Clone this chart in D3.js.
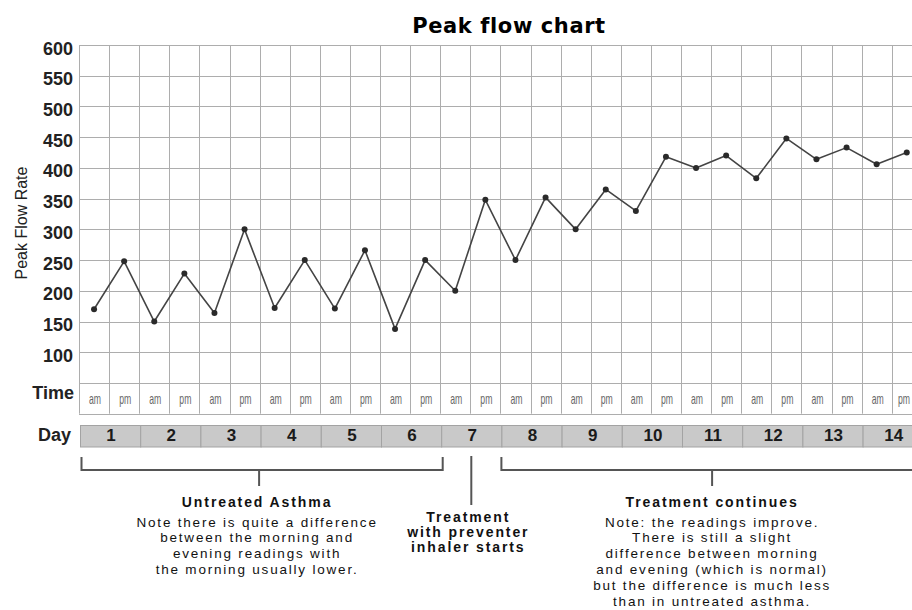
<!DOCTYPE html>
<html>
<head>
<meta charset="utf-8">
<script src="https://cdn.jsdelivr.net/npm/d3@7"></script>
<style>
  html, body { margin: 0; padding: 0; background: #ffffff; }
  svg { display: block; }
</style>
</head>
<body>
<div id="chart"></div>
<script>
// ---------------- data ----------------
const days = [1, 2, 3, 4, 5, 6, 7, 8, 9, 10, 11, 12, 13, 14];
const times = ["am", "pm"];
const peakFlow = [
  170, 248, 150, 228, 164, 300, 172, 250, 171, 266, 138, 250, 200, 348,
  250, 352, 300, 365, 330, 418, 400, 420, 383, 448, 414, 433, 406, 425
];
const yTicks = [100, 150, 200, 250, 300, 350, 400, 450, 500, 550, 600];
const gridValues = [0, 50, 100, 150, 200, 250, 300, 350, 400, 450, 500, 550, 600];
const title = "Peak flow chart";
const yLabel = "Peak Flow Rate";

const untreatedTitle = "Untreated Asthma";
const untreatedNote = [
  "Note there is quite a difference",
  "between the morning and",
  "evening readings with",
  "the morning usually lower."
];
const untreatedDays = [1, 6];
const startTitle = ["Treatment", "with preventer", "inhaler starts"];
const startDay = 7;
const continuesTitle = "Treatment continues";
const continuesNote = [
  "Note: the readings improve.",
  "There is still a slight",
  "difference between morning",
  "and evening (which is normal)",
  "but the difference is much less",
  "than in untreated asthma."
];
const continuesDays = [8, 14];

// ---------------- setup ----------------
const W = 912, H = 610;
const slots = [];
days.forEach(d => times.forEach(t => slots.push({ day: d, time: t, key: d + t })));
const points = slots.map((s, i) => ({ ...s, value: peakFlow[i] }));

const svg = d3.select("#chart").append("svg")
  .attr("width", W).attr("height", H)
  .attr("viewBox", `0 0 ${W} ${H}`);

const x = d3.scaleBand().domain(slots.map(s => s.key)).range([79, 921.8]).paddingInner(0).paddingOuter(0);
const y = d3.scaleLinear().domain([0, 600]).range([413.7, 45]);
const bw = x.bandwidth();
const dayStart = d => x(d + "am");
const dayEnd = d => x(d + "pm") + bw;

const sans = "'Liberation Sans', Arial, Helvetica, sans-serif";
const gridColor = "#adadad";

// ---------------- title ----------------
svg.append("text")
  .attr("x", 509).attr("y", 33)
  .attr("text-anchor", "middle")
  .attr("font-family", "'DejaVu Sans', Verdana, sans-serif")
  .attr("font-weight", "bold")
  .attr("font-size", 21)
  .attr("letter-spacing", 0.6)
  .attr("fill", "#000")
  .text(title);

// ---------------- grid ----------------
const grid = svg.append("g");
grid.selectAll("line.h").data(gridValues).join("line")
  .attr("class", "h")
  .attr("x1", 79).attr("x2", W)
  .attr("y1", d => Math.round(y(d)) + 0.5).attr("y2", d => Math.round(y(d)) + 0.5)
  .attr("stroke", gridColor).attr("stroke-width", 1);

const boundaries = slots.map(s => x(s.key));
grid.selectAll("line.v").data(boundaries).join("line")
  .attr("class", "v")
  .attr("x1", d => Math.round(d) + 0.5).attr("x2", d => Math.round(d) + 0.5)
  .attr("y1", y(600)).attr("y2", y(0))
  .attr("stroke", gridColor).attr("stroke-width", 1);

// ---------------- y axis labels ----------------
const yAxis = d3.axisLeft(y).tickValues(yTicks).tickSize(0).tickPadding(6);
const gy = svg.append("g").attr("transform", "translate(79,0)").call(yAxis);
gy.select(".domain").remove();
gy.selectAll("text")
  .attr("font-family", sans)
  .attr("font-weight", "bold")
  .attr("font-size", 18)
  .attr("fill", "#222")
  .attr("dy", "0.5em");

svg.append("text")
  .attr("transform", "translate(27,223) rotate(-90)")
  .attr("text-anchor", "middle")
  .attr("font-family", sans)
  .attr("font-size", 16)
  .attr("fill", "#222")
  .text(yLabel);

// ---------------- time row ----------------
svg.append("text")
  .attr("x", 74).attr("y", 399)
  .attr("text-anchor", "end")
  .attr("font-family", sans).attr("font-weight", "bold").attr("font-size", 18)
  .attr("fill", "#222")
  .text("Time");

svg.append("g").selectAll("text").data(slots).join("text")
  .attr("transform", d => `translate(${Math.min(x(d.key) + bw / 2 + 1, W - 8)},404) scale(0.62,1)`)
  .attr("text-anchor", "middle")
  .attr("font-family", sans).attr("font-size", 14)
  .attr("fill", "#666")
  .text(d => d.time);

// ---------------- day row ----------------
svg.append("text")
  .attr("x", 71).attr("y", 441)
  .attr("text-anchor", "end")
  .attr("font-family", sans).attr("font-weight", "bold").attr("font-size", 18)
  .attr("fill", "#222")
  .text("Day");

const dayG = svg.append("g");
dayG.selectAll("rect").data(days).join("rect")
  .attr("x", d => dayStart(d) + 1.5)
  .attr("y", 425.5)
  .attr("width", d => dayEnd(d) - dayStart(d))
  .attr("height", 21.5)
  .attr("fill", "#c9c9c9")
  .attr("stroke", "#a3a3a3")
  .attr("stroke-width", 1);
dayG.selectAll("text").data(days).join("text")
  .attr("x", d => (dayStart(d) + dayEnd(d)) / 2 + 2)
  .attr("y", 441)
  .attr("text-anchor", "middle")
  .attr("font-family", sans).attr("font-weight", "bold").attr("font-size", 17)
  .attr("fill", "#1a1a1a")
  .text(d => d);

// ---------------- data line ----------------
const line = d3.line().x(d => x(d.key) + bw / 2).y(d => y(d.value));
svg.append("path")
  .datum(points)
  .attr("d", line)
  .attr("fill", "none")
  .attr("stroke", "#444")
  .attr("stroke-width", 1.6)
  .attr("stroke-linejoin", "round");

svg.append("g").selectAll("circle").data(points).join("circle")
  .attr("cx", d => x(d.key) + bw / 2)
  .attr("cy", d => y(d.value))
  .attr("r", 3)
  .attr("fill", "#2a2a2a");

// ---------------- annotations ----------------
const ann = svg.append("g")
  .attr("stroke", "#555").attr("stroke-width", 2).attr("fill", "none");

function bracket(x1, x2, xt) {
  ann.append("path")
    .attr("d", `M${x1},457 V470 H${x2} V457`);
  ann.append("line")
    .attr("x1", xt).attr("x2", xt).attr("y1", 470).attr("y2", 486);
}
const ux1 = dayStart(untreatedDays[0]) + 2.5, ux2 = dayEnd(untreatedDays[1]) + 2.5;
const uxc = (ux1 + ux2) / 2 - 3;
bracket(ux1, ux2, uxc);
const cx1 = dayStart(continuesDays[0]) + 1, cx2 = dayEnd(continuesDays[1]) + 1;
const cxc = (cx1 + cx2) / 2;
bracket(cx1, cx2, cxc);
const sx = (dayStart(startDay) + dayEnd(startDay)) / 2 + 1;
ann.append("line").attr("x1", sx).attr("x2", sx).attr("y1", 456).attr("y2", 505);

const txt = svg.append("g").attr("font-family", sans).attr("fill", "#111").attr("text-anchor", "middle");

function block(cx, heading, lines) {
  txt.append("text")
    .attr("x", cx).attr("y", 507)
    .attr("font-weight", "bold").attr("font-size", 14).attr("letter-spacing", 1.9)
    .text(heading);
  txt.selectAll(null).data(lines).enter().append("text")
    .attr("x", cx).attr("y", (d, i) => 526.5 + i * 15.9)
    .attr("font-size", 13.5).attr("letter-spacing", 1.8)
    .text(d => d);
}
block(uxc - 2, untreatedTitle, untreatedNote);
block(cxc, continuesTitle, continuesNote);

txt.selectAll(null).data(startTitle).enter().append("text")
  .attr("x", sx - 3).attr("y", (d, i) => 521.7 + i * 15)
  .attr("font-weight", "bold").attr("font-size", 14).attr("letter-spacing", 1.9)
  .text(d => d);
</script>
</body>
</html>
